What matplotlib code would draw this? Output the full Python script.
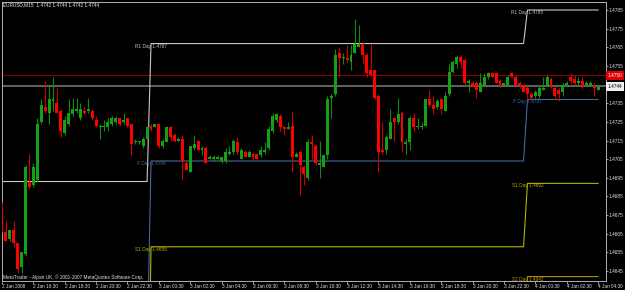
import numpy as np
import matplotlib.pyplot as plt

# EURUSD M15, bars from 2 Jan 2008 14:30 to 4 Jan 2008 04:30
opens = [1.4676, 1.4666, 1.4662, 1.4667, 1.4660, 1.4647, 1.4654, 1.4693, 1.4691, 1.4694,
         1.4725, 1.4733, 1.4730, 1.4736, 1.4735, 1.4731, 1.4719, 1.4724, 1.4729, 1.4731,
         1.4727, 1.4731, 1.4731, 1.4731, 1.4726, 1.4722, 1.4722, 1.4722, 1.4724, 1.4725,
         1.4727, 1.4725, 1.4727, 1.4724, 1.4714, 1.4714, 1.4712, 1.4716, 1.4723, 1.4722,
         1.4724, 1.4712, 1.4714, 1.4722, 1.4718, 1.4715, 1.4716, 1.4703, 1.4698, 1.4711,
         1.4715, 1.4710, 1.4711, 1.4705, 1.4705, 1.4705, 1.4704, 1.4704, 1.4708, 1.4709,
         1.4714, 1.4705, 1.4709, 1.4706, 1.4708, 1.4708, 1.4707, 1.4709, 1.4711, 1.4720,
         1.4726, 1.4728, 1.4722, 1.4721, 1.4723, 1.4706, 1.4709, 1.4701, 1.4695, 1.4714,
         1.4712, 1.4702, 1.4701, 1.4707, 1.4738, 1.4740, 1.4762, 1.4759, 1.4759, 1.4757,
         1.4762, 1.4765, 1.4767, 1.4761, 1.4753, 1.4753, 1.4739, 1.4710, 1.4710, 1.4716,
         1.4727, 1.4725, 1.4730, 1.4713, 1.4714, 1.4727, 1.4722, 1.4722, 1.4723, 1.4737,
         1.4734, 1.4733, 1.4737, 1.4731, 1.4740, 1.4752, 1.4756, 1.4760, 1.4758, 1.4746,
         1.4746, 1.4746, 1.4741, 1.4744, 1.4749, 1.4751, 1.4751, 1.4747, 1.4744, 1.4744,
         1.4751, 1.4749, 1.4746, 1.4744, 1.4743, 1.4740, 1.4739, 1.4739, 1.4742, 1.4744,
         1.4748, 1.4743, 1.4742, 1.4741, 1.4745, 1.4749, 1.4748, 1.4746, 1.4747, 1.4745,
         1.4745, 1.4744, 1.4742]
highs = [1.4682, 1.4672, 1.4667, 1.4672, 1.4660, 1.4655, 1.4702, 1.4708, 1.4703, 1.4727,
         1.4737, 1.4747, 1.4744, 1.4749, 1.4743, 1.4732, 1.4728, 1.4737, 1.4738, 1.4738,
         1.4735, 1.4733, 1.4738, 1.4732, 1.4728, 1.4724, 1.4726, 1.4727, 1.4728, 1.4728,
         1.4727, 1.4730, 1.4727, 1.4724, 1.4716, 1.4715, 1.4717, 1.4722, 1.4724, 1.4724,
         1.4724, 1.4716, 1.4723, 1.4723, 1.4719, 1.4717, 1.4718, 1.4704, 1.4712, 1.4718,
         1.4715, 1.4712, 1.4712, 1.4707, 1.4707, 1.4707, 1.4706, 1.4711, 1.4712, 1.4716,
         1.4717, 1.4711, 1.4710, 1.4710, 1.4709, 1.4708, 1.4712, 1.4714, 1.4723, 1.4730,
         1.4730, 1.4729, 1.4723, 1.4725, 1.4731, 1.4709, 1.4710, 1.4702, 1.4716, 1.4718,
         1.4713, 1.4715, 1.4707, 1.4739, 1.4740, 1.4764, 1.4765, 1.4762, 1.4766, 1.4766,
         1.4780, 1.4777, 1.4768, 1.4762, 1.4767, 1.4753, 1.4740, 1.4725, 1.4718, 1.4732,
         1.4727, 1.4738, 1.4731, 1.4716, 1.4728, 1.4730, 1.4727, 1.4725, 1.4737, 1.4742,
         1.4739, 1.4737, 1.4738, 1.4741, 1.4756, 1.4758, 1.4761, 1.4761, 1.4759, 1.4748,
         1.4747, 1.4747, 1.4751, 1.4751, 1.4752, 1.4752, 1.4752, 1.4748, 1.4746, 1.4750,
         1.4752, 1.4750, 1.4747, 1.4746, 1.4744, 1.4741, 1.4742, 1.4744, 1.4749, 1.4750,
         1.4749, 1.4744, 1.4743, 1.4746, 1.4747, 1.4751, 1.4750, 1.4749, 1.4749, 1.4747,
         1.4747, 1.4746, 1.4744]
lows = [1.4666, 1.4661, 1.4661, 1.4658, 1.4644, 1.4644, 1.4653, 1.4689, 1.4690, 1.4693,
        1.4724, 1.4730, 1.4724, 1.4731, 1.4730, 1.4717, 1.4718, 1.4723, 1.4728, 1.4730,
        1.4726, 1.4729, 1.4730, 1.4726, 1.4722, 1.4716, 1.4720, 1.4720, 1.4723, 1.4724,
        1.4723, 1.4724, 1.4722, 1.4707, 1.4713, 1.4713, 1.4711, 1.4716, 1.4720, 1.4722,
        1.4711, 1.4711, 1.4714, 1.4715, 1.4714, 1.4715, 1.4694, 1.4699, 1.4698, 1.4710,
        1.4710, 1.4707, 1.4703, 1.4705, 1.4704, 1.4705, 1.4703, 1.4703, 1.4707, 1.4708,
        1.4708, 1.4705, 1.4706, 1.4706, 1.4705, 1.4705, 1.4706, 1.4708, 1.4710, 1.4719,
        1.4725, 1.4720, 1.4718, 1.4721, 1.4698, 1.4706, 1.4686, 1.4691, 1.4694, 1.4705,
        1.4702, 1.4695, 1.4701, 1.4705, 1.4727, 1.4739, 1.4749, 1.4756, 1.4757, 1.4753,
        1.4762, 1.4765, 1.4756, 1.4749, 1.4750, 1.4737, 1.4698, 1.4708, 1.4708, 1.4716,
        1.4715, 1.4724, 1.4709, 1.4708, 1.4710, 1.4720, 1.4721, 1.4721, 1.4723, 1.4733,
        1.4729, 1.4732, 1.4729, 1.4731, 1.4739, 1.4751, 1.4754, 1.4754, 1.4745, 1.4741,
        1.4744, 1.4738, 1.4741, 1.4744, 1.4748, 1.4749, 1.4746, 1.4743, 1.4744, 1.4744,
        1.4749, 1.4744, 1.4743, 1.4741, 1.4738, 1.4737, 1.4738, 1.4738, 1.4742, 1.4744,
        1.4743, 1.4738, 1.4736, 1.4739, 1.4744, 1.4746, 1.4745, 1.4745, 1.4743, 1.4744,
        1.4744, 1.4739, 1.4742]
closes = [1.4667, 1.4661, 1.4667, 1.4660, 1.4646, 1.4655, 1.4701, 1.4690, 1.4701, 1.4724,
          1.4734, 1.4731, 1.4737, 1.4737, 1.4730, 1.4720, 1.4726, 1.4730, 1.4732, 1.4732,
          1.4732, 1.4730, 1.4732, 1.4727, 1.4723, 1.4723, 1.4723, 1.4725, 1.4727, 1.4727,
          1.4724, 1.4726, 1.4723, 1.4713, 1.4715, 1.4715, 1.4716, 1.4722, 1.4721, 1.4724,
          1.4712, 1.4715, 1.4722, 1.4717, 1.4715, 1.4716, 1.4704, 1.4699, 1.4712, 1.4713,
          1.4710, 1.4711, 1.4703, 1.4706, 1.4706, 1.4706, 1.4706, 1.4709, 1.4709, 1.4715,
          1.4709, 1.4710, 1.4706, 1.4709, 1.4706, 1.4705, 1.4710, 1.4710, 1.4721, 1.4728,
          1.4729, 1.4722, 1.4721, 1.4722, 1.4706, 1.4708, 1.4702, 1.4697, 1.4714, 1.4713,
          1.4703, 1.4703, 1.4707, 1.4737, 1.4739, 1.4761, 1.4759, 1.4760, 1.4758, 1.4761,
          1.4767, 1.4767, 1.4761, 1.4751, 1.4750, 1.4738, 1.4709, 1.4709, 1.4717, 1.4725,
          1.4725, 1.4729, 1.4714, 1.4714, 1.4727, 1.4722, 1.4723, 1.4723, 1.4737, 1.4734,
          1.4732, 1.4736, 1.4732, 1.4739, 1.4752, 1.4757, 1.4760, 1.4757, 1.4746, 1.4747,
          1.4744, 1.4742, 1.4746, 1.4749, 1.4751, 1.4749, 1.4746, 1.4744, 1.4746, 1.4749,
          1.4749, 1.4744, 1.4745, 1.4741, 1.4740, 1.4738, 1.4741, 1.4743, 1.4743, 1.4749,
          1.4744, 1.4739, 1.4740, 1.4745, 1.4746, 1.4747, 1.4746, 1.4747, 1.4744, 1.4746,
          1.4746, 1.4743, 1.4744]

# daily pivot levels (2 Jan, 3 Jan, 4 Jan), number of bars of each day on screen
day_bars = [38, 96, 19]
r1_day = [1.4693, 1.4767, 1.4785]
p_day = [1.4600, 1.4704, 1.4737]
s1_day = [1.4530, 1.4658, 1.4692]
s2_day = [1.4480, 1.4595, 1.4642]

red_level = 1.4750
bid_level = 1.4744

time_labels = ["2 Jan 2008", "2 Jan 16:30", "2 Jan 18:30", "2 Jan 20:30", "2 Jan 22:30",
               "3 Jan 00:30", "3 Jan 02:30", "3 Jan 04:30", "3 Jan 06:30", "3 Jan 08:30",
               "3 Jan 10:30", "3 Jan 12:30", "3 Jan 14:30", "3 Jan 16:30", "3 Jan 18:30",
               "3 Jan 20:30", "3 Jan 22:30", "4 Jan 00:30", "4 Jan 02:30", "4 Jan 04:30"]
price_labels = ["1.4645", "1.4655", "1.4665", "1.4675", "1.4685", "1.4695", "1.4705", "1.4715",
                "1.4725", "1.4735", "1.4745", "1.4755", "1.4765", "1.4775", "1.4785"]

plt.rcParams['font.family'] = ['Liberation Sans', 'DejaVu Sans']
fs = 3.4
W, H = 625.0, 290.0
y_lo, y_hi = 1.463964, 1.478945

fig = plt.figure(figsize=(6.25, 2.9), dpi=100, facecolor='black')
ax = fig.add_axes([1.7 / W, 9 / H, 604 / W, 279.3 / H])
ax.set_facecolor('black')

o = np.array(opens)
h = np.array(highs)
l = np.array(lows)
c = np.array(closes)
x = np.arange(len(o))
up = c >= o

# levels behind the candles
ax.axhline(red_level, color='#8c0000', lw=0.8, zorder=1)
ax.axhline(bid_level, color='#6a6a6a', lw=1.3, zorder=1)

wick_col = np.where(up, '#0e8a0e', '#d00000')
body_col = np.where(up, '#14a014', '#ff0000')
ax.vlines(x, l, h, colors=wick_col, lw=0.8, zorder=3)
body = np.maximum(np.abs(c - o), 0.00004)
ax.bar(x, body, bottom=np.minimum(o, c), width=0.75, color=body_col, linewidth=0, zorder=4)

# pivot lines, one value per bar
def per_bar(vals):
    return np.repeat(vals, day_bars)

pivots = [("R1", r1_day, '#c8c8c8'), ("P", p_day, '#4a68a0'),
          ("S1", s1_day, '#b4b400'), ("S2", s2_day, '#b09400')]
starts = np.cumsum([0] + day_bars[:-1])
for name, vals, colr in pivots:
    ax.plot(x, per_bar(vals), color=colr, lw=0.8, zorder=2)
    for d in (1, 2):
        if not (y_lo < vals[d] < y_hi):
            continue  # label off screen
        ax.text(starts[d], vals[d], f"{name} Day {vals[d]:.4f}", color=colr, fontsize=fs,
                ha='center', va='top', zorder=5, clip_on=True)

ax.set_xlim(-0.08, 153.95)
ax.set_ylim(y_lo, y_hi)

for sp in ax.spines.values():
    sp.set_color('#b0b0b0')
    sp.set_linewidth(0.7)

ax.set_xticks(np.arange(0, len(o), 8))
ax.set_xticklabels(time_labels, ha='left')
ax.tick_params(axis='x', direction='out', length=1.8, width=0.6, color='#b0b0b0',
               labelcolor='#e0e0e0', labelsize=fs, pad=0.2)

ax.yaxis.tick_right()
ax.set_yticks([float(s) for s in price_labels])
ax.set_yticklabels(price_labels)
ax.tick_params(axis='y', direction='out', length=1.5, width=0.6, color='#b0b0b0',
               labelcolor='#e0e0e0', labelsize=fs, pad=0.8)

ytr = ax.get_yaxis_transform()
ax.text(1.003, red_level, f"{red_level:.4f}", transform=ytr, color='white', fontsize=fs,
        ha='left', va='center', zorder=10, clip_on=False,
        bbox=dict(boxstyle='square,pad=0.4', fc='#e00000', ec='none'))
ax.text(1.003, bid_level, f"{bid_level:.4f}", transform=ytr, color='black', fontsize=fs,
        ha='left', va='center', zorder=10, clip_on=False,
        bbox=dict(boxstyle='square,pad=0.4', fc='#f0f0f0', ec='none'))

fig.text(2.7 / W, 1 - 5 / H, "EURUSD,M15  1.4742 1.4744 1.4742 1.4744", color='#f0f0f0',
         fontsize=fs, ha='left', va='center')
fig.text(3 / W, 1 - 276.7 / H, "MetaTrader - Alpari UK, \u00a9 2001-2007 MetaQuotes Software Corp.",
         color='#e0e0e0', fontsize=fs, ha='left', va='center')

fig.savefig('out.png', dpi=100, facecolor='black')
